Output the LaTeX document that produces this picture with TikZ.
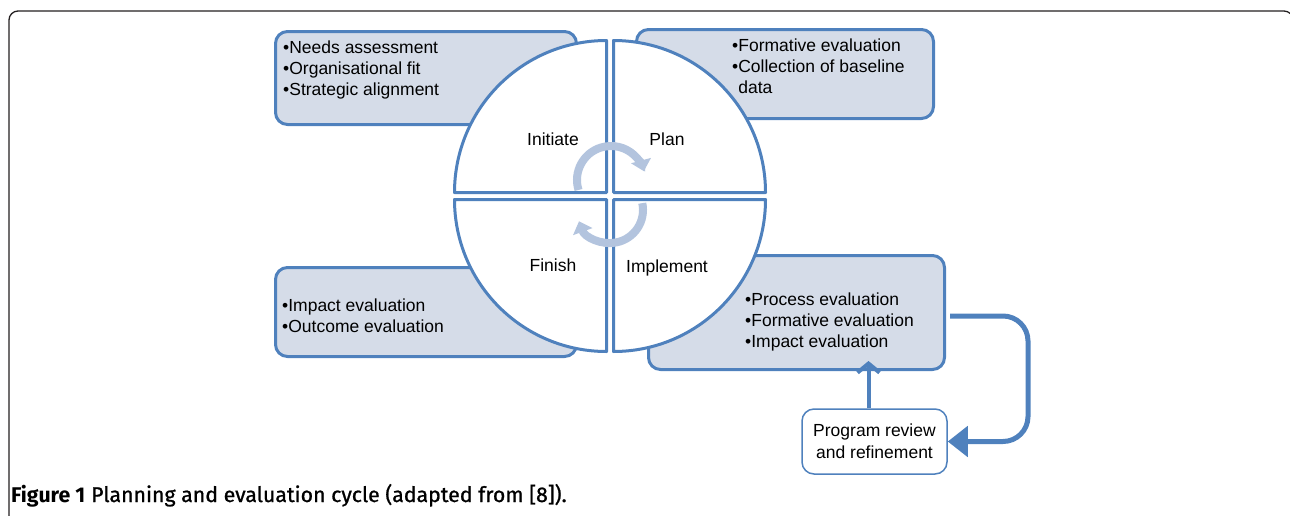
\documentclass[tikz,border=0pt]{standalone}
\usepackage{fontspec}
\setmainfont{Liberation Sans}
\newfontfamily\capfont{Fira Sans}
\newfontfamily\capsemi{Fira Sans}[FakeBold=1]
\usetikzlibrary{arrows.meta}
\definecolor{edgeblue}{HTML}{4F81BD}
\definecolor{boxfill}{HTML}{D5DCE8}
\definecolor{cyclecol}{HTML}{B3C4DE}
\definecolor{framecol}{HTML}{231F20}

\begin{document}
\begin{tikzpicture}[x=1pt, y=-1pt, font=\fontsize{17.5}{21}\selectfont]
  \tikzstyle{infobox} = [draw=edgeblue, fill=boxfill, line width=3pt, rounded corners=12pt, inner sep=0pt]
  \tikzstyle{quarter} = [draw=edgeblue, fill=white, line width=3pt, line join=round]
  \tikzstyle{txt} = [align=left, inner sep=0pt, anchor=north west]
  \tikzstyle{cyclearrow} = [draw=cyclecol, line width=8pt, -{Triangle[length=11pt, width=20pt]}]
  \tikzstyle{reviewbox} = [draw=edgeblue, fill=white, line width=1.5pt, rounded corners=12pt, align=center, minimum width=145pt, minimum height=65pt, font=\fontsize{17.5}{22}\selectfont]

  \useasboundingbox (0,0) rectangle (1290,515);
  \draw[framecol, line width=1.3pt, rounded corners=9pt] (9,11) rectangle (1293,540);

  \node[infobox, minimum width=301pt, minimum height=93pt] (needsbox) at (426,78) {};
  \node[infobox, minimum width=297pt, minimum height=89pt] (planbox) at (785,74) {};
  \node[infobox, minimum width=301pt, minimum height=89pt] (finishbox) at (426,312) {};
  \node[infobox, minimum width=296pt, minimum height=114pt] (implbox) at (796.5,312.5) {};

  \draw[quarter] (606.5,192.5) -- ++(0,-152) arc[start angle=270, end angle=180, radius=152] -- cycle;
  \draw[quarter] (613.5,192.5) -- ++(0,-152) arc[start angle=270, end angle=360, radius=152] -- cycle;
  \draw[quarter] (606.5,199.5) -- ++(0,152) arc[start angle=90, end angle=180, radius=152] -- cycle;
  \draw[quarter] (613.5,199.5) -- ++(0,152) arc[start angle=90, end angle=0, radius=152] -- cycle;

  \draw[cyclearrow] (611,180) ++(163:34) arc[start angle=163, end angle=345, radius=34];
  \draw[cyclearrow] (610,210) ++(-12:33) arc[start angle=-12, end angle=160, radius=33];

  \node[anchor=base] (initiate) at (553,145) {Initiate};
  \node[anchor=base] (plan) at (667,145) {Plan};
  \node[anchor=base] (finish) at (553,271) {Finish};
  \node[anchor=base] (implement) at (667,272) {Implement};

  \node[txt] (needstxt) at (283,41) {•Needs assessment\\•Organisational fit\\•Strategic alignment};
  \node[txt] (plantxt) at (732,39) {•Formative evaluation\\•Collection of baseline\\\hphantom{•}data};
  \node[txt] (finishtxt) at (282,298.5) {•Impact evaluation\\•Outcome evaluation};
  \node[txt] (impltxt) at (745,293) {•Process evaluation\\•Formative evaluation\\•Impact evaluation};

  \node[reviewbox] (review) at (874.5,441.5) {Program review\\and refinement};

  \draw[edgeblue, line width=4pt, -{Straight Barb[length=9pt, width=22pt]}, shorten >=-10pt]
    ([xshift=-6pt]review.north) -- ([xshift=-6pt]review.north |- implbox.south);
  \draw[edgeblue, line width=5pt, rounded corners=25pt, -{Triangle[length=20pt, width=30pt]}]
    ([xshift=4pt, yshift=-3.5pt]implbox.east) -- ++(78,0) |- (review.east);

  \node[anchor=base west, inner sep=0pt, font=\fontsize{21.3}{25}\selectfont] (caption) at (11,502)
    {{\capfont\bfseries Figure 1} {\capsemi Planning and evaluation cycle (adapted from [8]).}};
\end{tikzpicture}
\end{document}
